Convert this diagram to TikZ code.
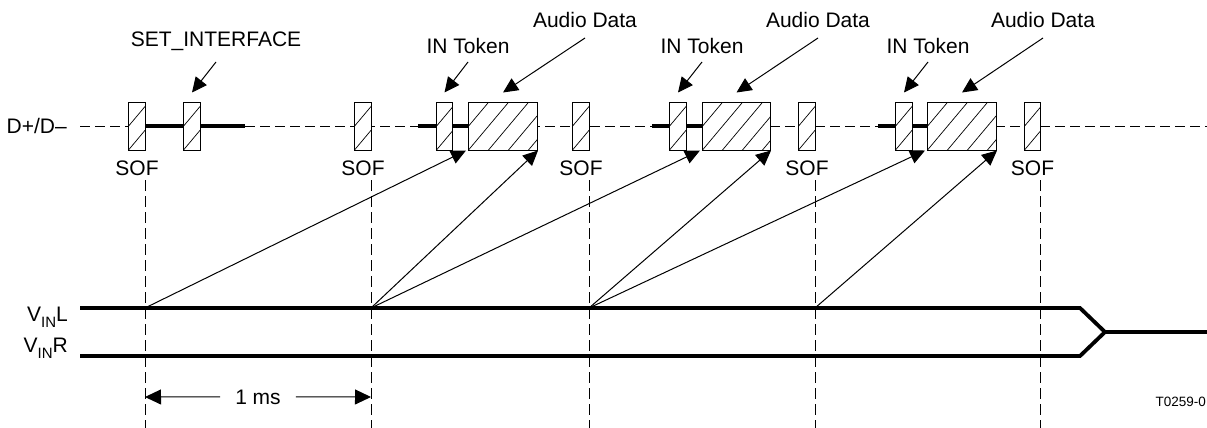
\documentclass[tikz,border=0pt]{standalone}
\usepackage{fontspec}
\setmainfont{Liberation Sans}
\usetikzlibrary{arrows.meta}
\begin{document}
\begin{tikzpicture}[x=1pt,y=-1pt,
  lbl/.style={font=\fontsize{21}{24}\selectfont, inner sep=0pt, anchor=base},
  pkt/.style={draw, line width=1pt, fill=white, minimum height=48pt, inner sep=0pt, anchor=west,
    path picture={\foreach \i in {-4,...,5}{\draw[line width=0.7pt] ([xshift=\i*20pt]path picture bounding box.south west) -- ++(50:90pt);}}},
  bus/.style={line width=3.8pt},
  ptr/.style={line width=1pt, -{Triangle[length=15pt,width=14pt]}},
  dim/.style={line width=1pt, -{Triangle[length=16pt,width=15pt]}},
  vdash/.style={line width=1pt, dash pattern=on 11pt off 5pt},
  hdash/.style={line width=1pt, dash pattern=on 10pt off 5pt},
]
\useasboundingbox (0,0) rectangle (1207,428);

% vertical dashed lines
\foreach \x in {145,371,589,815,1040}{\draw[vdash] (\x,180) -- (\x,428);}

% D+/D- line
\node[lbl, anchor=base east] (dl) at (67,133) {D+/D–};
\draw[hdash] (80,126) -- (1207,126);
\draw[bus] (145,126) -- (245,126);
\draw[bus] (418,126) -- (468,126);
\draw[bus] (652,126) -- (702,126);
\draw[bus] (878,126) -- (927,126);

% packets
\node[pkt, minimum width=17pt] (s1) at (128,126) {};
\node[pkt, minimum width=17pt] (si) at (183,126) {};
\node[pkt, minimum width=17pt] (s2) at (354,126) {};
\node[pkt, minimum width=16pt] (t2) at (436,126) {};
\node[pkt, minimum width=69pt] (a2) at (468,126) {};
\node[pkt, minimum width=17pt] (s3) at (572,126) {};
\node[pkt, minimum width=17pt] (t3) at (669,126) {};
\node[pkt, minimum width=68pt] (a3) at (702,126) {};
\node[pkt, minimum width=17pt] (s4) at (798,126) {};
\node[pkt, minimum width=17pt] (t4) at (895,126) {};
\node[pkt, minimum width=69pt] (a4) at (927,126) {};
\node[pkt, minimum width=16pt] (s5) at (1024,126) {};

% SOF labels
\node[lbl] (l1) at (s1.center |- 0,175.5) {SOF};
\node[lbl] (l2) at (s2.center |- 0,175.5) {SOF};
\node[lbl] (l3) at (s3.center |- 0,175.5) {SOF};
\node[lbl] (l4) at (s4.center |- 0,175.5) {SOF};
\node[lbl] (l5) at (s5.center |- 0,175.5) {SOF};

% top labels
\node[lbl] (lsi) at (216,47) {SET\_INTERFACE};
\node[lbl] (lt2) at (468,53) {IN Token};
\node[lbl] (la2) at (585,28) {Audio Data};
\node[lbl] (lt3) at (702,53) {IN Token};
\node[lbl] (la3) at (818,28) {Audio Data};
\node[lbl] (lt4) at (928,53) {IN Token};
\node[lbl] (la4) at (1043,28) {Audio Data};

\draw[ptr] ([yshift=-15pt]lsi.base) -- ([yshift=9pt]si.north);
\draw[ptr] ([yshift=-9pt]lt2.base) -- ([yshift=9pt]t2.north);
\draw[ptr] ([yshift=-10pt]la2.base) -- ([yshift=9pt]a2.north);
\draw[ptr] ([yshift=-9pt]lt3.base) -- ([yshift=9pt]t3.north);
\draw[ptr] ([yshift=-10pt]la3.base) -- ([yshift=9pt]a3.north);
\draw[ptr] ([yshift=-9pt]lt4.base) -- ([yshift=9pt]t4.north);
\draw[ptr] ([yshift=-10pt]la4.base) -- ([yshift=9pt]a4.north);

% VIN lines
\node[lbl, anchor=base east] (vl) at (68,321) {V\raisebox{-6.5pt}{\fontsize{15}{14}\selectfont IN}L};
\node[lbl, anchor=base east] (vr) at (68,352) {V\raisebox{-6.5pt}{\fontsize{15}{14}\selectfont IN}R};
\draw[bus, line join=miter] (80,308) -- (1080,308) -- (1105,332) -- (1080,356) -- (80,356);
\draw[bus] (1105,332) -- (1207,332);

\coordinate (p1) at (145,308);
\coordinate (p2) at (371,308);
\coordinate (p3) at (589,308);
\coordinate (p4) at (815,308);

\draw[ptr] (p1) -- ([xshift=-2pt]a2.south west);
\draw[ptr] (p2) -- (a2.south east);
\draw[ptr] (p2) -- ([xshift=-2pt]a3.south west);
\draw[ptr] (p3) -- (a3.south east);
\draw[ptr] (p3) -- ([xshift=-2pt]a4.south west);
\draw[ptr] (p4) -- (a4.south east);

% 1 ms
\node[lbl, inner xsep=15pt] (ms) at (258,404) {1 ms};
\coordinate (m1) at (145,397);
\coordinate (m2) at (371,397);
\draw[dim] (ms.west) -- (m1);
\draw[dim] (ms.east) -- (m2);

\node[inner sep=0pt, anchor=base east, font=\fontsize{13.5}{16}\selectfont] (tag) at (1206,406.5) {T0259-0};
\end{tikzpicture}
\end{document}
